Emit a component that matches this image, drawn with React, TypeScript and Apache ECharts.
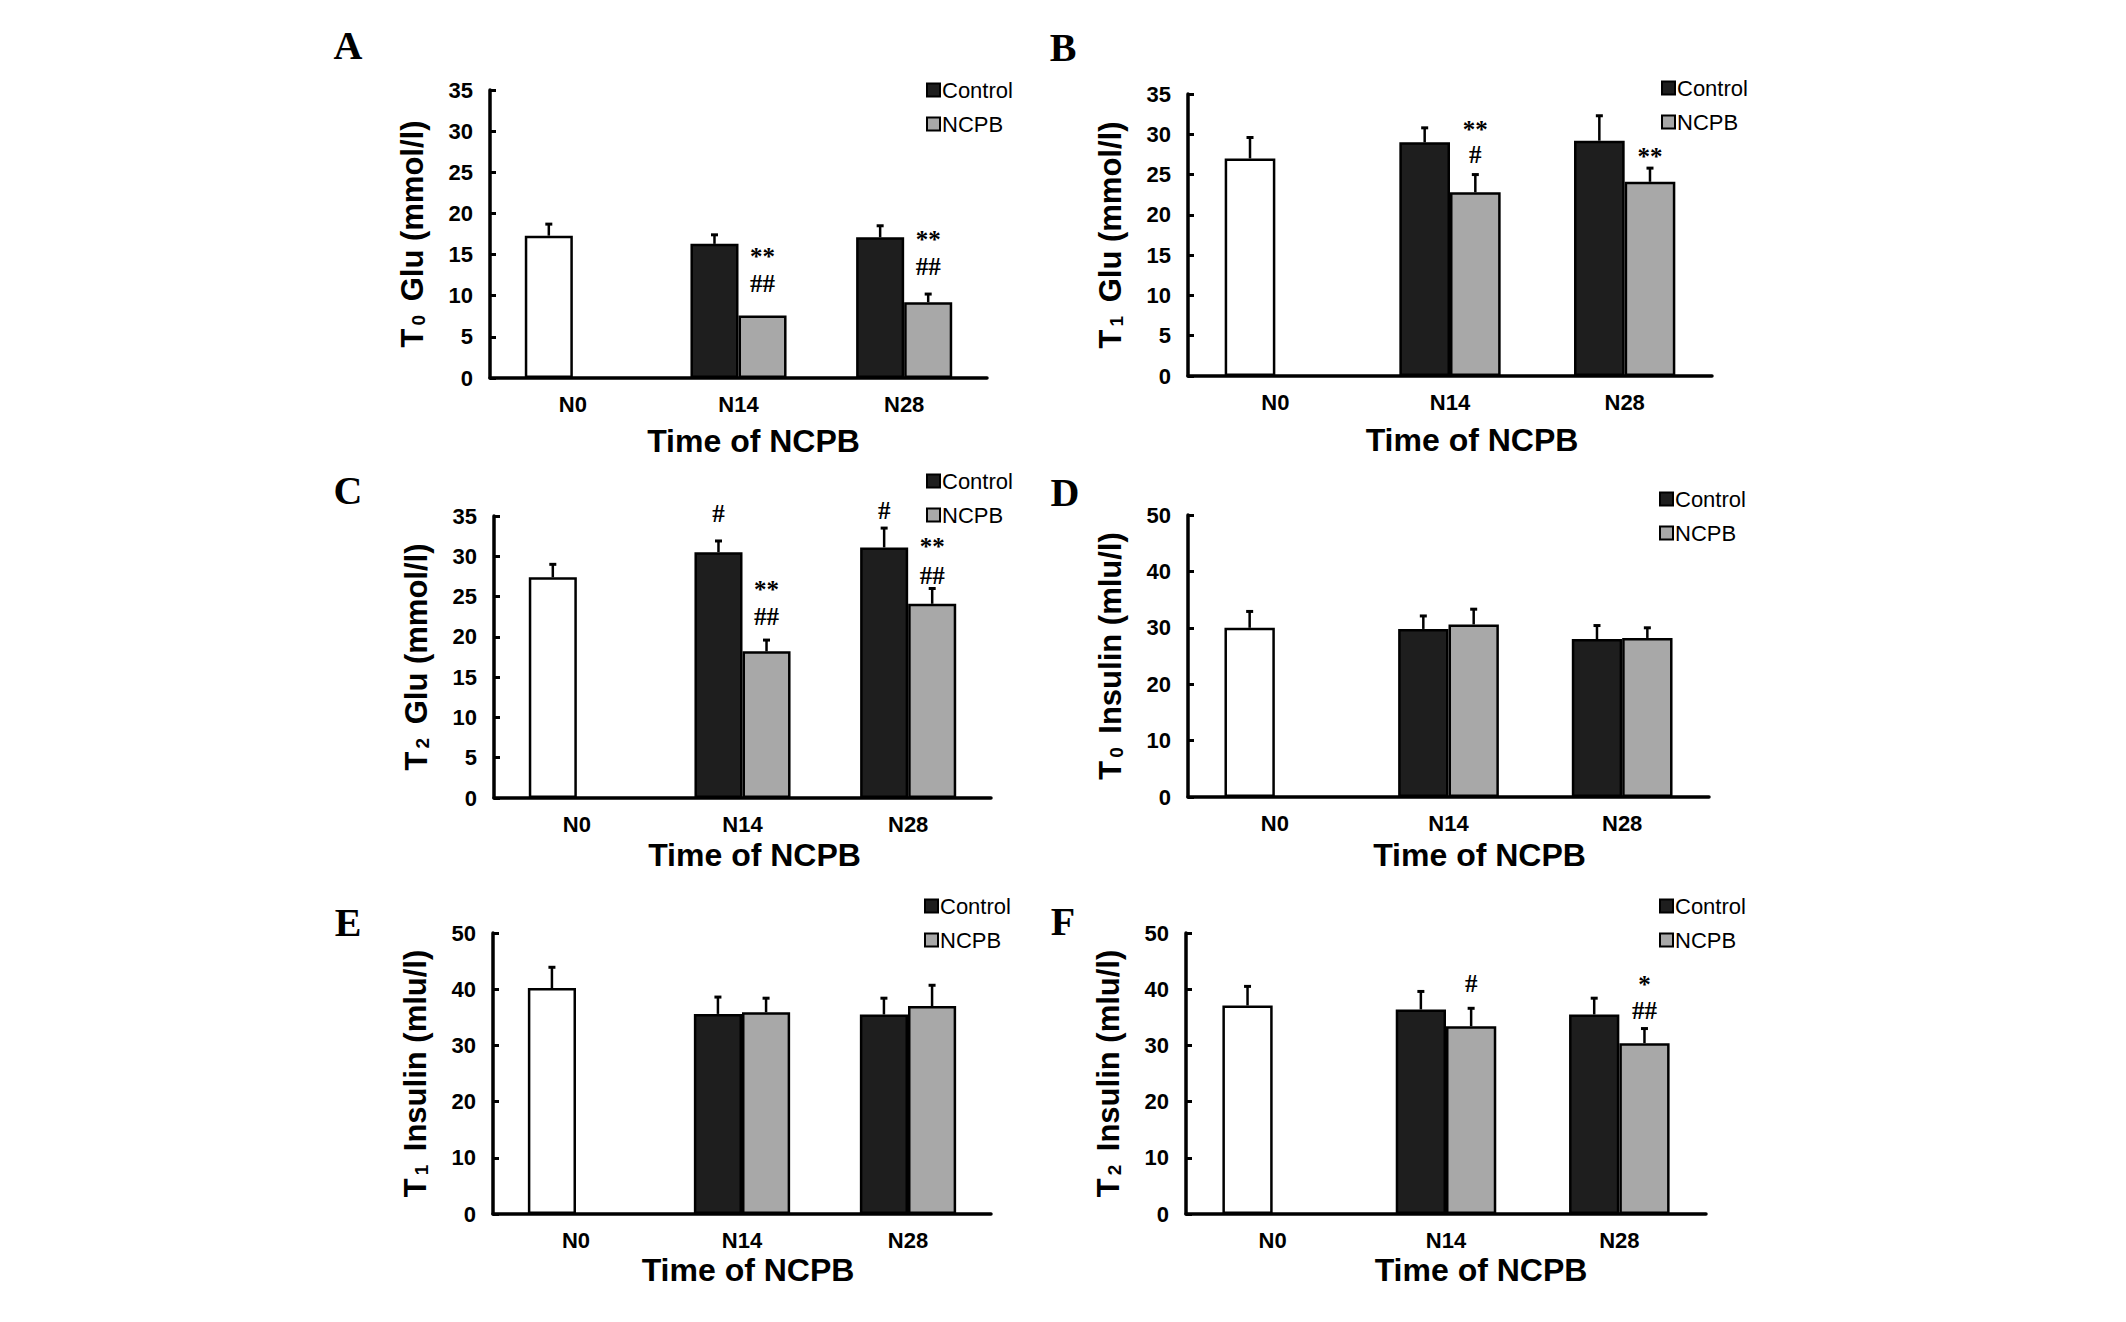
import React, { useEffect, useRef } from 'react';
import * as echarts from 'echarts';

const CATEGORIES = ['N0', 'N14', 'N28'];
const SERIES_NAMES = ['Control', 'NCPB'];

// A: T0 Glu
const A_CONTROL = [17.3, 16.3, 17.1];
const A_CONTROL_SD = [1.4, 1.1, 1.4];
const A_NCPB = [null, 7.6, 9.2];
const A_NCPB_SD = [null, null, 1.0];
const A_MARKS: [number, number, number, string][] = [[1, 1, 15.4, '**'], [1, 1, 11.5, '##'], [2, 1, 17.5, '**'], [2, 1, 13.6, '##']];

// B: T1 Glu
const B_CONTROL = [27.0, 29.0, 29.2];
const B_CONTROL_SD = [2.6, 1.8, 3.1];
const B_NCPB = [null, 22.8, 24.1];
const B_NCPB_SD = [null, 2.2, 1.7];
const B_MARKS: [number, number, number, string][] = [[1, 1, 31.2, '**'], [1, 1, 27.5, '#'], [2, 1, 27.9, '**']];

// C: T2 Glu
const C_CONTROL = [27.4, 30.5, 31.1];
const C_CONTROL_SD = [1.6, 1.4, 2.4];
const C_NCPB = [null, 18.2, 24.1];
const C_NCPB_SD = [null, 1.4, 1.9];
const C_MARKS: [number, number, number, string][] = [
  [1, 0, 35.3, '#'], [2, 0, 35.7, '#'], [1, 1, 26.5, '**'], [1, 1, 22.5, '##'], [2, 1, 31.8, '**'], [2, 1, 27.6, '##'],
];

// D: T0 Insulin
const D_CONTROL = [30.0, 29.8, 28.0];
const D_CONTROL_SD = [2.9, 2.3, 2.4];
const D_NCPB = [null, 30.6, 28.2];
const D_NCPB_SD = [null, 2.7, 1.8];
const D_MARKS: [number, number, number, string][] = [];

// E: T1 Insulin
const E_CONTROL = [40.2, 35.6, 35.5];
const E_CONTROL_SD = [3.7, 3.0, 2.9];
const E_NCPB = [null, 35.9, 37.0];
const E_NCPB_SD = [null, 2.5, 3.7];
const E_MARKS: [number, number, number, string][] = [];

// F: T2 Insulin
const F_CONTROL = [37.1, 36.4, 35.5];
const F_CONTROL_SD = [3.4, 3.2, 2.9];
const F_NCPB = [null, 33.4, 30.4];
const F_NCPB_SD = [null, 3.2, 2.6];
const F_MARKS: [number, number, number, string][] = [[1, 1, 41.1, '#'], [2, 1, 41.7, '*'], [2, 1, 36.2, '##']];

const GLU_TICKS = { max: 35, interval: 5 };
const INS_TICKS = { max: 50, interval: 10 };

const SANS = '"Liberation Sans", Arial, sans-serif';
const SERIF = '"Liberation Serif", "Times New Roman", serif';
const BAR_FRAC = 0.29;

const panels = [
  { letter: 'A', sub: '0', unit: ' Glu (mmol/l)', ticks: GLU_TICKS, control: A_CONTROL, controlSd: A_CONTROL_SD, ncpb: A_NCPB, ncpbSd: A_NCPB_SD, marks: A_MARKS,
    grid: { left: 490, top: 90, width: 497, height: 288 }, legend: { left: 921, top: 74 }, pos: [348, 45], shift: 15, gap: 47 },
  { letter: 'B', sub: '1', unit: ' Glu (mmol/l)', ticks: GLU_TICKS, control: B_CONTROL, controlSd: B_CONTROL_SD, ncpb: B_NCPB, ncpbSd: B_NCPB_SD, marks: B_MARKS,
    grid: { left: 1188, top: 94, width: 524, height: 282 }, legend: { left: 1656, top: 72 }, pos: [1063, 47], shift: 22, gap: 48 },
  { letter: 'C', sub: '2', unit: ' Glu (mmol/l)', ticks: GLU_TICKS, control: C_CONTROL, controlSd: C_CONTROL_SD, ncpb: C_NCPB, ncpbSd: C_NCPB_SD, marks: C_MARKS,
    grid: { left: 494, top: 516, width: 497, height: 282 }, legend: { left: 921, top: 465 }, pos: [348, 490], shift: 12, gap: 41 },
  { letter: 'D', sub: '0', unit: ' Insulin (mlu/l)', ticks: INS_TICKS, control: D_CONTROL, controlSd: D_CONTROL_SD, ncpb: D_NCPB, ncpbSd: D_NCPB_SD, marks: D_MARKS,
    grid: { left: 1188, top: 515, width: 521, height: 282 }, legend: { left: 1654, top: 483 }, pos: [1065, 492], shift: 31, gap: 42 },
  { letter: 'E', sub: '1', unit: ' Insulin (mlu/l)', ticks: INS_TICKS, control: E_CONTROL, controlSd: E_CONTROL_SD, ncpb: E_NCPB, ncpbSd: E_NCPB_SD, marks: E_MARKS,
    grid: { left: 493, top: 933, width: 498, height: 281 }, legend: { left: 919, top: 890 }, pos: [348, 922], shift: 6, gap: 40 },
  { letter: 'F', sub: '2', unit: ' Insulin (mlu/l)', ticks: INS_TICKS, control: F_CONTROL, controlSd: F_CONTROL_SD, ncpb: F_NCPB, ncpbSd: F_NCPB_SD, marks: F_MARKS,
    grid: { left: 1186, top: 933, width: 520, height: 281 }, legend: { left: 1654, top: 890 }, pos: [1063, 921], shift: 35, gap: 40 },
];

const slotOffset = (api: any, slot: number) => {
  const band = api.size([1, 0])[0];
  return (slot === 0 ? -1 : 1) * band * BAR_FRAC / 2;
};

const App: React.FC = () => {
  const chartRef = useRef<HTMLDivElement>(null);

  useEffect(() => {
    if (!chartRef.current) return;
    const chart = echarts.init(chartRef.current, undefined, { renderer: 'svg' });

    const grids: any[] = [];
    const xAxes: any[] = [];
    const yAxes: any[] = [];
    const legends: any[] = [];
    const series: any[] = [];
    const graphics: any[] = [];

    panels.forEach((p, i) => {
      grids.push({ ...p.grid, containLabel: false });
      legends.push({
        data: SERIES_NAMES, orient: 'vertical', left: p.legend.left, top: p.legend.top,
        icon: 'rect', itemWidth: 13, itemHeight: 13, itemGap: 12, selectedMode: false,
        itemStyle: { borderColor: '#000', borderWidth: 2 },
        textStyle: { fontSize: 22, color: '#000', fontFamily: SANS, padding: [0, 0, 0, -3] },
      });
      xAxes.push({
        type: 'category', gridIndex: i, data: CATEGORIES, boundaryGap: true,
        name: 'Time of NCPB', nameLocation: 'middle', nameGap: p.gap,
        nameTextStyle: { fontSize: 32, fontWeight: 'bold', color: '#000', fontFamily: SANS, padding: [0, 0, 0, p.shift * 2] },
        axisLine: { lineStyle: { color: '#000', width: 3.5 } },
        axisTick: { inside: true, length: 6, interval: 0, lineStyle: { color: '#000', width: 3 } },
        axisLabel: { fontSize: 22, fontWeight: 'bold', color: '#000', fontFamily: SANS, margin: 15, interval: 0 },
      });
      yAxes.push({
        type: 'value', gridIndex: i, min: 0, max: p.ticks.max, interval: p.ticks.interval,
        name: `{t|T}{s|${p.sub}}{t|${p.unit}}`, nameLocation: 'middle', nameRotate: 90, nameGap: 62,
        nameTextStyle: {
          color: '#000', fontFamily: SANS, fontWeight: 'bold',
          rich: {
            t: { fontSize: 31, fontWeight: 'bold', fontFamily: SANS, color: '#000', lineHeight: 31, verticalAlign: 'top', padding: [0, 0, 10, 0] },
            s: { fontSize: 19, fontWeight: 'bold', fontFamily: SANS, color: '#000', lineHeight: 19, verticalAlign: 'bottom', padding: [0, 5, 0, 3] },
          },
        },
        splitLine: { show: false },
        axisLine: { show: true, lineStyle: { color: '#000', width: 3.5 } },
        axisTick: { show: true, inside: true, length: 6, lineStyle: { color: '#000', width: 3 } },
        axisLabel: { fontSize: 22, fontWeight: 'bold', color: '#000', fontFamily: SANS, margin: 17 },
      });

      series.push({
        name: 'Control', type: 'bar', xAxisIndex: i, yAxisIndex: i, barWidth: `${BAR_FRAC * 100}%`, barGap: '0%',
        itemStyle: { color: '#1e1e1e', borderColor: '#000', borderWidth: 2.5 },
        data: p.control.map((v, k) => (k === 0 ? { value: v, itemStyle: { color: '#ffffff' } } : v)),
      });
      series.push({
        name: 'NCPB', type: 'bar', xAxisIndex: i, yAxisIndex: i, barWidth: `${BAR_FRAC * 100}%`, barGap: '0%',
        itemStyle: { color: '#a8a8a8', borderColor: '#000', borderWidth: 2.5 },
        data: p.ncpb.map((v) => (v == null ? '-' : v)),
      });

      const errData: number[][] = [];
      p.control.forEach((v, k) => { if (p.controlSd[k] != null) errData.push([k, v, v + (p.controlSd[k] as number), 0]); });
      p.ncpb.forEach((v, k) => { if (v != null && p.ncpbSd[k] != null) errData.push([k, v, v + (p.ncpbSd[k] as number), 1]); });
      series.push({
        type: 'custom', xAxisIndex: i, yAxisIndex: i, z: 5, encode: { x: 0, y: 1 }, silent: true,
        data: errData,
        renderItem: (_params: any, api: any) => {
          const k = api.value(0);
          const slot = api.value(3);
          const p0 = api.coord([k, api.value(1)]);
          const p1 = api.coord([k, api.value(2)]);
          const x = p0[0] + slotOffset(api, slot);
          return {
            type: 'group',
            children: [
              { type: 'line', shape: { x1: x, y1: p0[1], x2: x, y2: p1[1] }, style: { stroke: '#000', lineWidth: 2.5 } },
              { type: 'line', shape: { x1: x - 3.5, y1: p1[1], x2: x + 3.5, y2: p1[1] }, style: { stroke: '#000', lineWidth: 3 } },
            ],
          };
        },
      });

      if (p.marks.length) {
        const marks = p.marks;
        series.push({
          type: 'custom', xAxisIndex: i, yAxisIndex: i, z: 6, encode: { x: 0, y: 1 }, silent: true,
          data: marks.map((m) => [m[0], m[2]]),
          renderItem: (params: any, api: any) => {
            const m = marks[params.dataIndex];
            const pt = api.coord([m[0], m[2]]);
            const star = m[3].includes('*');
            return {
              type: 'text',
              x: pt[0] + slotOffset(api, m[1]),
              y: pt[1] + (star ? 5 : 0),
              style: {
                text: m[3], fill: '#000', fontSize: 25, fontWeight: 'bold', fontFamily: SERIF, lineHeight: 17,
                align: 'center', verticalAlign: 'middle',
              },
            };
          },
        });
      }

      graphics.push({
        type: 'text', x: p.pos[0], y: p.pos[1],
        style: { text: p.letter, fill: '#000', fontSize: 40, fontWeight: 'bold', fontFamily: SERIF, textAlign: 'center', textVerticalAlign: 'middle' },
      });
    });

    chart.setOption({
      animation: false,
      backgroundColor: '#ffffff',
      grid: grids,
      xAxis: xAxes,
      yAxis: yAxes,
      legend: legends,
      series,
      graphic: graphics,
    });

    return () => {
      chart.dispose();
    };
  }, []);

  return (
    <div
      ref={chartRef}
      style={{ position: 'absolute', left: 0, top: 0, width: 2126, height: 1322, background: '#fff' }}
    />
  );
};

export default App;
